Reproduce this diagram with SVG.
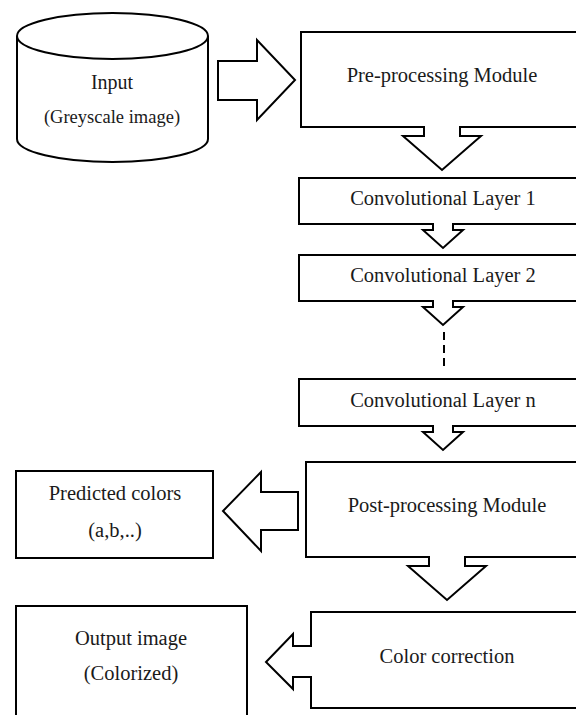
<svg xmlns="http://www.w3.org/2000/svg" width="576" height="715" viewBox="0 0 576 715">
<style>
.s{fill:#fff;stroke:#000;stroke-width:2;stroke-linejoin:miter}
.t{font-family:"Liberation Serif","Times New Roman",serif;font-size:20.5px;fill:#1a1a1a;text-anchor:middle}
.ts{font-size:18.5px}
</style>
<rect width="576" height="715" fill="#fff"/>
<g id="input">
<path class="s" d="M17,36 V139 A95.5,23 0 0 0 208,139 V36"/>
<ellipse class="s" cx="112.5" cy="36" rx="95.5" ry="23"/>
<text class="t" x="112" y="89" style="font-size:20px">Input</text>
<text class="t ts" x="112" y="123">(Greyscale image)</text>
</g>
<g id="preprocessing">
<rect class="s" x="301" y="32" width="300" height="95"/>
<text class="t" x="442" y="82">Pre-processing Module</text>
</g>
<g id="conv1">
<rect class="s" x="299" y="178" width="300" height="46"/>
<text class="t" x="443" y="205">Convolutional Layer 1</text>
</g>
<g id="conv2">
<rect class="s" x="299" y="255" width="300" height="46"/>
<text class="t" x="443" y="282">Convolutional Layer 2</text>
</g>
<g id="convn">
<rect class="s" x="299" y="379" width="300" height="47"/>
<text class="t" x="443" y="407">Convolutional Layer n</text>
</g>
<g id="postprocessing">
<rect class="s" x="306" y="462" width="300" height="95"/>
<text class="t" x="447" y="512">Post-processing Module</text>
</g>
<g id="predicted">
<rect class="s" x="16" y="471" width="197" height="87"/>
<text class="t" x="115" y="500">Predicted colors</text>
<text class="t" x="115" y="537">(a,b,..)</text>
</g>
<g id="colorcorrection">
<rect class="s" x="311" y="612" width="300" height="96"/>
<text class="t" x="447" y="663">Color correction</text>
</g>
<g id="output">
<path class="s" d="M16,725 V606 H247 V725"/>
<text class="t" x="131" y="645">Output image</text>
<text class="t" x="131" y="680">(Colorized)</text>
</g>
<g id="connectors">
<polygon class="s" points="218,61 257,61 257,40 295,80 257,120 257,100 218,100"/>
<path class="s" d="M424,126 V136 H403 L442,170 L481,136 H460 V126"/>
<path class="s" d="M433,223 V230 H423 L443,248 L463,230 H453 V223"/>
<path class="s" d="M433,300 V307 H423 L443,325 L463,307 H453 V300"/>
<line x1="444" y1="332" x2="444" y2="367" stroke="#000" stroke-width="2" stroke-dasharray="8,5"/>
<path class="s" d="M433,425 V432 H423 L443,450 L463,432 H453 V425"/>
<path class="s" d="M429,556 V566 H408 L447,600 L486,566 H465 V556"/>
<polygon class="s" points="298,492 261,492 261,472 223,511 261,551 261,530 298,530"/>
<path class="s" d="M312,646 H293 V634 L266,662 L293,689 V677 H312"/>
</g>
</svg>
